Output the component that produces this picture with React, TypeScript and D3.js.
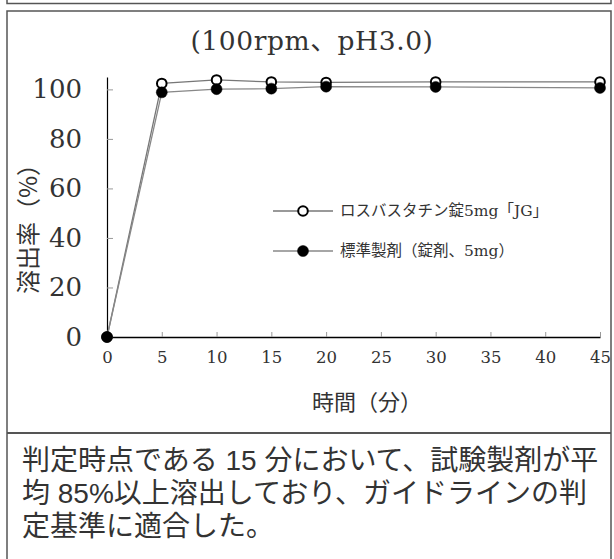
import { useRef, useEffect } from "react";
import * as d3 from "d3";

// dissolution times (min)
const times = [0, 5, 10, 15, 20, 30, 45];
// ロスバスタチン錠5mg「JG」 (open circles)
const testValues = [0, 102.4, 103.8, 103, 102.8, 103, 103];
// 標準製剤 (filled circles)
const refValues = [0, 98.8, 100.1, 100.3, 101.1, 101, 100.6];

const xTicks = [0, 5, 10, 15, 20, 25, 30, 35, 40, 45];
const yTicks = [0, 20, 40, 60, 80, 100];

const seriesNames = ["ロスバスタチン錠5mg「JG」", "標準製剤（錠剤、5mg）"];
const noteLines = [
  "判定時点である 15 分において、試験製剤が平",
  "均 85%以上溶出しており、ガイドラインの判",
  "定基準に適合した。",
];

const width = 614;
const height = 559;
const plot = { left: 107, right: 600, top: 77, bottom: 337 };
const serif = "'DejaVu Serif', 'Noto Sans CJK JP', serif";
const gothic = "'Noto Sans CJK JP', sans-serif";
const noteFont = "'Liberation Sans', 'Noto Sans CJK JP', sans-serif";

const App = () => {
  const svgRef = useRef<SVGSVGElement>(null);

  useEffect(() => {
    const svg = d3.select(svgRef.current);
    svg.selectAll("*").remove();

    // frames
    svg
      .append("rect")
      .attr("x", 7)
      .attr("y", -10)
      .attr("width", 604)
      .attr("height", 13.5)
      .attr("fill", "none")
      .attr("stroke", "#555")
      .attr("stroke-width", 1.5);
    svg
      .append("rect")
      .attr("x", 7)
      .attr("y", 11)
      .attr("width", 604)
      .attr("height", 560)
      .attr("fill", "none")
      .attr("stroke", "#555")
      .attr("stroke-width", 1.5);
    svg
      .append("line")
      .attr("x1", 7)
      .attr("x2", 611)
      .attr("y1", 433)
      .attr("y2", 433)
      .attr("stroke", "#555")
      .attr("stroke-width", 2);

    const x = d3.scaleLinear().domain([0, 45]).range([plot.left, plot.right]);
    const y = d3.scaleLinear().domain([0, 105]).range([plot.bottom, plot.top]);

    // title
    svg
      .append("text")
      .attr("x", 312)
      .attr("y", 50)
      .attr("text-anchor", "middle")
      .attr("font-family", serif)
      .attr("font-size", 26.5)
      .attr("letter-spacing", 0.6)
      .attr("fill", "#333")
      .text("(100rpm、pH3.0)");

    // x axis
    const xAxis = svg
      .append("g")
      .attr("transform", `translate(0,${plot.bottom})`)
      .call(
        d3
          .axisBottom(x)
          .tickValues(xTicks)
          .tickSize(-5)
          .tickSizeOuter(0)
          .tickPadding(14)
      );
    xAxis.select(".domain").attr("stroke", "#000").attr("stroke-width", 1.5);
    xAxis.selectAll(".tick line").attr("stroke", "#999");
    xAxis
      .selectAll(".tick text")
      .attr("font-family", serif)
      .attr("font-size", 16.5)
      .attr("fill", "#333");

    // y axis
    const yAxis = svg
      .append("g")
      .attr("transform", `translate(${plot.left},0)`)
      .call(
        d3
          .axisLeft(y)
          .tickValues(yTicks)
          .tickSize(-6)
          .tickSizeOuter(0)
          .tickPadding(25)
      );
    yAxis.select(".domain").attr("stroke", "#000").attr("stroke-width", 1.2);
    yAxis.selectAll(".tick line").attr("stroke", "#999");
    yAxis
      .selectAll(".tick text")
      .attr("font-family", serif)
      .attr("font-size", 26)
      .attr("fill", "#333");

    // axis titles
    svg
      .append("text")
      .attr("transform", "translate(26,223) rotate(-90)")
      .attr("text-anchor", "middle")
      .attr("dominant-baseline", "central")
      .attr("font-family", gothic)
      .attr("font-size", 24)
      .attr("fill", "#333")
      .text("溶出率（%）");
    svg
      .append("text")
      .attr("x", 367)
      .attr("y", 410)
      .attr("text-anchor", "middle")
      .attr("font-family", gothic)
      .attr("font-size", 22)
      .attr("fill", "#333")
      .text("時間（分）");

    // series
    const line = d3
      .line<number>()
      .x((d, i) => x(times[i]))
      .y((d) => y(d));

    const series = [
      { values: testValues, fill: "#fff", stroke: "#777" },
      { values: refValues, fill: "#000", stroke: "#888" },
    ];

    series.forEach((s) => {
      svg
        .append("path")
        .datum(s.values)
        .attr("fill", "none")
        .attr("stroke", s.stroke)
        .attr("stroke-width", 1.3)
        .attr("d", line);
    });
    series.forEach((s) => {
      svg
        .append("g")
        .selectAll("circle")
        .data(s.values)
        .enter()
        .append("circle")
        .attr("cx", (d, i) => x(times[i]))
        .attr("cy", (d) => y(d))
        .attr("r", s.fill === "#fff" ? 4.8 : 5.5)
        .attr("fill", s.fill)
        .attr("stroke", "#000")
        .attr("stroke-width", s.fill === "#fff" ? 2 : 0.5);
    });

    // legend
    const legend = svg.append("g");
    series.forEach((s, i) => {
      const ly = 211 + i * 40;
      legend
        .append("line")
        .attr("x1", 273)
        .attr("x2", 333)
        .attr("y1", ly)
        .attr("y2", ly)
        .attr("stroke", s.stroke)
        .attr("stroke-width", 1.3);
      legend
        .append("circle")
        .attr("cx", 303)
        .attr("cy", ly)
        .attr("r", s.fill === "#fff" ? 4.8 : 5.5)
        .attr("fill", s.fill)
        .attr("stroke", "#000")
        .attr("stroke-width", s.fill === "#fff" ? 2 : 0.5);
      legend
        .append("text")
        .attr("x", 340)
        .attr("y", ly)
        .attr("dominant-baseline", "central")
        .attr("font-family", serif)
        .attr("font-size", 15.5)
        .attr("fill", "#333")
        .text(seriesNames[i]);
    });

    // note text below the chart
    svg
      .append("g")
      .selectAll("text")
      .data(noteLines)
      .enter()
      .append("text")
      .attr("x", 22)
      .attr("y", (d, i) => 470 + i * 33)
      .attr("font-family", noteFont)
      .attr("font-size", 28)
      .attr("fill", "#333")
      .text((d) => d);
  }, []);

  return (
    <svg
      ref={svgRef}
      width={width}
      height={height}
      style={{ position: "absolute", left: 0, top: 0, background: "#fff" }}
    ></svg>
  );
};

export default App;
